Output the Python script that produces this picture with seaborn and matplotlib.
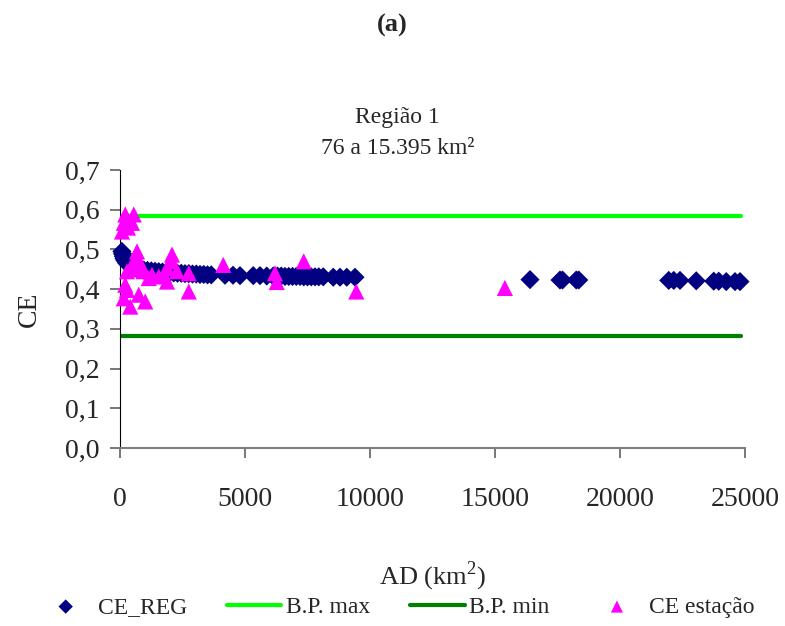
import matplotlib
matplotlib.use("Agg")
import matplotlib.pyplot as plt
import seaborn as sns
import pandas as pd

# Dados (Região 1)
ad_reg = [76, 100, 130, 160, 200, 260, 330, 420, 520, 650, 800, 950, 1100, 1250,
          1400, 1550, 1700, 1850, 2000, 2150, 2300, 2450, 2600, 2750, 2900, 3050,
          3200, 3350, 3500, 3650, 4200, 4520, 4800, 5330, 5600, 5870, 6130, 6300,
          6450, 6600, 6750, 6900, 7050, 7200, 7350, 7500, 7650, 7800, 7950, 8130,
          8530, 8800, 9070, 9400, 16400, 17600, 17700, 18250, 18350, 21950, 22150,
          22400, 23050, 23750, 23950, 24250, 24600, 24800]
ce_reg = [0.495, 0.489, 0.483, 0.477, 0.472, 0.466, 0.462, 0.458, 0.455, 0.452,
          0.450, 0.448, 0.447, 0.446, 0.445, 0.444, 0.443, 0.442, 0.442, 0.441,
          0.440, 0.440, 0.439, 0.439, 0.438, 0.438, 0.437, 0.437, 0.436, 0.436,
          0.435, 0.435, 0.434, 0.434, 0.434, 0.433, 0.433, 0.433, 0.433, 0.432,
          0.432, 0.432, 0.432, 0.432, 0.431, 0.431, 0.431, 0.431, 0.431, 0.431,
          0.430, 0.430, 0.430, 0.430, 0.424, 0.423, 0.423, 0.423, 0.423, 0.422,
          0.422, 0.422, 0.421, 0.420, 0.420, 0.419, 0.419, 0.419]

ad_est = [80, 150, 210, 320, 480, 550, 680, 680, 480, 280, 950, 1280, 2080, 2080,
          1880, 1750, 1880, 2280, 2750, 2750, 210, 280, 150, 410, 750, 1010, 1150,
          1550, 600, 850, 4130, 6200, 6270, 7350, 9450, 15395]
ce_est = [0.545, 0.567, 0.588, 0.555, 0.567, 0.588, 0.495, 0.474, 0.461, 0.445,
          0.445, 0.436, 0.487, 0.470, 0.453, 0.436, 0.419, 0.445, 0.440, 0.394,
          0.411, 0.398, 0.377, 0.356, 0.386, 0.369, 0.428, 0.432, 0.450, 0.460,
          0.461, 0.440, 0.418, 0.470, 0.394, 0.403]

ad_bp = [0, 24850]
bp_max = [0.585, 0.585]
bp_min = [0.282, 0.282]

y_ticks = [0.0, 0.1, 0.2, 0.3, 0.4, 0.5, 0.6, 0.7]
y_labels = ["0,0", "0,1", "0,2", "0,3", "0,4", "0,5", "0,6", "0,7"]
x_ticks = [0, 5000, 10000, 15000, 20000, 25000]

df_reg = pd.DataFrame({"AD": ad_reg, "CE": ce_reg})
df_est = pd.DataFrame({"AD": ad_est, "CE": ce_est})
df_bp = pd.DataFrame({"AD": ad_bp, "max": bp_max, "min": bp_min})

sns.set_style("white")
plt.rcParams["font.family"] = ["Liberation Serif", "DejaVu Serif"]
plt.rcParams["mathtext.fontset"] = "custom"
plt.rcParams["mathtext.rm"] = "Liberation Serif"

fig = plt.figure(figsize=(7.85, 6.26), dpi=100)
ax = fig.add_axes([120 / 785, 1 - 448 / 626, 625 / 785, 278 / 626])

sns.lineplot(data=df_bp, x="AD", y="max", color="#00ff00", linewidth=3,
             ax=ax, label="B.P. max", zorder=2)
sns.lineplot(data=df_bp, x="AD", y="min", color="#008000", linewidth=3,
             ax=ax, label="B.P. min", zorder=2)
sns.scatterplot(data=df_reg, x="AD", y="CE", marker="D", s=95, color="#000080",
                edgecolor="none", ax=ax, label="CE_REG", zorder=3, clip_on=False)
sns.scatterplot(data=df_est, x="AD", y="CE", marker="^", s=135, color="#ff00ff",
                edgecolor="none", ax=ax, label="CE estação", zorder=4, clip_on=False)

ax.set_xlim(0, 25000)
ax.set_ylim(0, 0.7)
ax.set_xticks(x_ticks)
ax.set_xticklabels([str(t) for t in x_ticks])
ax.set_yticks(y_ticks)
ax.set_yticklabels(y_labels)
ax.tick_params(axis="both", labelsize=20, length=7, width=1.2, color="#606060",
               direction="out", left=True, bottom=True)
ax.tick_params(axis="x", pad=21)
ax.tick_params(axis="y", pad=8)
for s in ["top", "right"]:
    ax.spines[s].set_visible(False)
ax.spines["left"].set_color("#000000")
ax.spines["bottom"].set_color("#808080")
ax.spines["bottom"].set_linewidth(1.5)

ax.set_xlabel("AD (km$^2$)", fontsize=19, labelpad=34)
ax.set_ylabel("CE", fontsize=20, labelpad=16)

fig.text(0.5, 1 - 25 / 626, "(a)", ha="center", va="center", fontsize=19,
         fontweight="bold")
fig.text(0.506, 1 - 117 / 626, "Região 1", ha="center", va="center", fontsize=17)
fig.text(0.506, 1 - 148 / 626, "76 a 15.395 km²", ha="center", va="center",
         fontsize=17)

h, l = ax.get_legend_handles_labels()
ax.get_legend().remove()
order = [l.index("CE_REG"), l.index("B.P. max"), l.index("B.P. min"),
         l.index("CE estação")]
fig.legend([h[i] for i in order], [l[i] for i in order], loc="center",
           bbox_to_anchor=(0.505, 19 / 626), ncol=4, frameon=False, fontsize=17,
           handlelength=2.3, handletextpad=0.2, columnspacing=1.7,
           markerscale=0.75)

fig.savefig("out.png", dpi=100)
